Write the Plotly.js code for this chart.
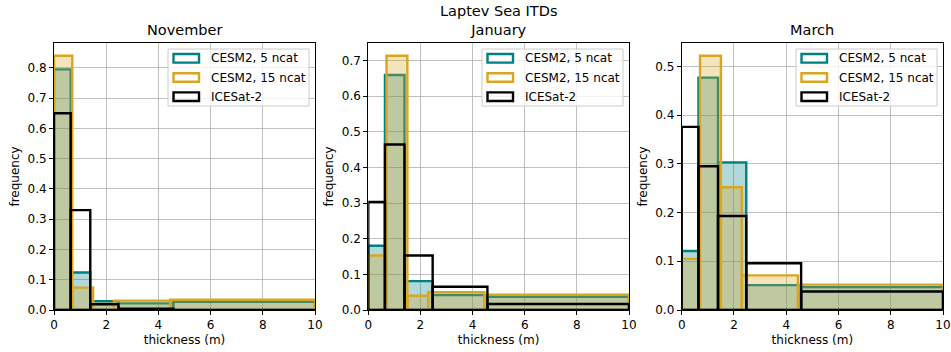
<!DOCTYPE html>
<html>
<head>
<meta charset="utf-8">
<script src="https://cdn.plot.ly/plotly-3.0.1.min.js"></script>
<style>html,body{margin:0;padding:0;background:#fff;}#chart{width:951px;height:352px;}</style>
</head>
<body>
<div id="chart"></div>
<script>
// ---- data ----
const edges5 = [0, 0.64, 1.39, 2.47, 4.57, 10];   // CESM2 5 ncat & ICESat-2 bin edges (m)
const edges15 = [0, 0.7, 1.5, 2.3, 4.45, 10];    // CESM2 15 ncat bin edges (m)
const months = ['November', 'January', 'March'];
const seriesNames = ['CESM2, 5 ncat', 'CESM2, 15 ncat', 'ICESat-2'];

const cesm5_nov = [0.795, 0.124, 0.029, 0.022, 0.027];
const cesm15_nov = [0.840, 0.074, 0.020, 0.031, 0.034];
const icesat_nov = [0.650, 0.330, 0.019, 0.004, 0.0];

const cesm5_jan = [0.180, 0.659, 0.081, 0.042, 0.037];
const cesm15_jan = [0.153, 0.713, 0.040, 0.050, 0.043];
const icesat_jan = [0.303, 0.464, 0.153, 0.065, 0.017];

const cesm5_mar = [0.121, 0.477, 0.303, 0.051, 0.047];
const cesm15_mar = [0.105, 0.522, 0.252, 0.071, 0.052];
const icesat_mar = [0.376, 0.295, 0.193, 0.096, 0.038];

const yTickMax = [0.8, 0.7, 0.5];
const xTicks = [0, 2, 4, 6, 8, 10];

// ---- styles ----
const TEAL = '#008080', GOLD = '#DAA520', BLACK = '#000000';
const TEAL_F = 'rgba(0,128,128,0.3)', GOLD_F = 'rgba(218,165,32,0.3)';
const FONT = 'DejaVu Sans, sans-serif';
const LW = 2.4;

function centers(edges) { return edges.slice(0, -1).map((e, i) => (e + edges[i + 1]) / 2); }
function widths(edges) { return edges.slice(0, -1).map((e, i) => edges[i + 1] - e); }

const panels = [
  [cesm5_nov, cesm15_nov, icesat_nov],
  [cesm5_jan, cesm15_jan, icesat_jan],
  [cesm5_mar, cesm15_mar, icesat_mar]
];
const seriesEdges = [edges5, edges15, edges5];
const fills = [TEAL_F, GOLD_F, 'rgba(0,0,0,0)'];
const colors = [TEAL, GOLD, BLACK];

const traces = [];
panels.forEach((p, i) => {
  const xa = i === 0 ? 'x' : 'x' + (i + 1);
  const ya = i === 0 ? 'y' : 'y' + (i + 1);
  p.forEach((vals, k) => {
    traces.push({
      type: 'bar', xaxis: xa, yaxis: ya, showlegend: false, hoverinfo: 'skip',
      name: seriesNames[k],
      x: centers(seriesEdges[k]), width: widths(seriesEdges[k]), y: vals,
      marker: {color: fills[k], line: {color: colors[k], width: LW}}
    });
  });
});

const ML = 54, MR = 8, MT = 43, MB = 42;
const domains = [[0, 0.2936], [0.3535, 0.6468], [0.7061, 1.0]];
const plotW = 951 - ML - MR;
const plotH = 352 - MT - MB;

const layout = {
  width: 951, height: 352,
  margin: {l: ML, r: MR, t: MT, b: MB, pad: 0},
  paper_bgcolor: '#fff', plot_bgcolor: '#fff',
  font: {family: FONT, size: 12, color: '#000'},
  showlegend: false, barmode: 'overlay',
  shapes: [], annotations: []
};

panels.forEach((p, i) => {
  const sfx = i === 0 ? '' : String(i + 1);
  const allMax = Math.max(...p[0], ...p[1], ...p[2]);
  const yTicks = [];
  for (let k = 0; k <= Math.round(yTickMax[i] * 10); k++) yTicks.push(k / 10);
  layout['xaxis' + sfx] = {
    domain: domains[i], anchor: 'y' + sfx, range: [0, 10],
    tickvals: xTicks, ticktext: xTicks.map(String),
    showgrid: true, gridcolor: '#b0b0b0', gridwidth: 0.8,
    showline: true, linecolor: '#000', linewidth: 1, mirror: true,
    ticks: 'outside', ticklen: 4, tickwidth: 1, tickcolor: '#000',
    zeroline: false, tickfont: {size: 12},
    title: {text: 'thickness (m)', font: {size: 12}, standoff: 4}
  };
  layout['yaxis' + sfx] = {
    domain: [0, 1], anchor: 'x' + sfx, range: [0, allMax * 1.05],
    tickvals: yTicks, ticktext: yTicks.map(v => v.toFixed(1)),
    showgrid: true, gridcolor: '#b0b0b0', gridwidth: 0.8,
    showline: true, linecolor: '#000', linewidth: 1, mirror: true,
    ticks: 'outside', ticklen: 4, tickwidth: 1, tickcolor: '#000',
    zeroline: false, tickfont: {size: 12},
    title: {text: 'frequency', font: {size: 12}, standoff: 5}
  };
  const xr = 'x' + sfx + ' domain', yr = 'y' + sfx + ' domain';
  const W = (domains[i][1] - domains[i][0]) * plotW, H = plotH;
  // title
  layout.annotations.push({
    xref: xr, yref: yr, x: 0.5, y: 1, xanchor: 'center', yanchor: 'bottom', yshift: 3,
    text: i === 1 ? 'Laptev Sea ITDs<br>' + months[i] : months[i],
    showarrow: false, font: {size: 14.5, family: FONT}
  });
  // legend (manual, matplotlib style)
  const bx1 = W - 6, by1 = 6, bw = 141, bh = 57;
  const bx0 = bx1 - bw, by0 = by1 + bh;
  const fx = px => px / W, fy = py => 1 - py / H;
  layout.shapes.push({type: 'rect', xref: xr, yref: yr, x0: fx(bx0), x1: fx(bx1), y0: fy(by0), y1: fy(by1),
    line: {color: '#cccccc', width: 1}, fillcolor: 'rgba(255,255,255,0.8)', layer: 'above'});
  const rows = [9.3, 28.5, 47.7];
  seriesNames.forEach((nm, k) => {
    const cy = by1 + rows[k];
    layout.shapes.push({type: 'rect', xref: xr, yref: yr, x0: fx(bx0 + 5.5), x1: fx(bx0 + 31), y0: fy(cy + 4.3), y1: fy(cy - 4.3),
      line: {color: colors[k], width: LW}, fillcolor: 'rgba(255,255,255,0)', layer: 'above'});
    layout.annotations.push({xref: xr, yref: yr, x: fx(bx0 + 41), y: fy(cy), xanchor: 'left', yanchor: 'middle',
      text: nm, showarrow: false, font: {size: 12, family: FONT}});
  });
});

Plotly.newPlot('chart', traces, layout, {staticPlot: true, displayModeBar: false});
</script>
</body>
</html>
